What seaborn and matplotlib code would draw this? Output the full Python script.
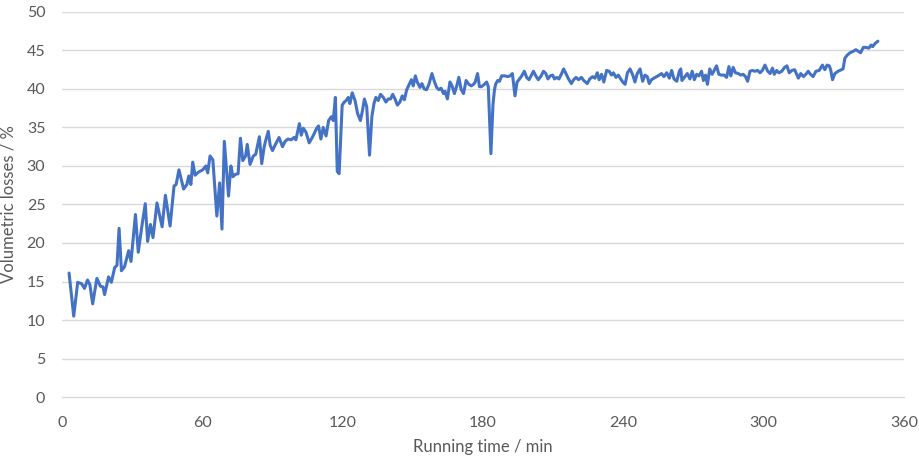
import numpy as np
import pandas as pd
import matplotlib
matplotlib.use("Agg")
import matplotlib.pyplot as plt
import seaborn as sns

# values (running time in min, volumetric losses in %)
time_min = [
    3.0, 5.0, 6.7, 8.4, 9.6, 10.9, 11.9, 13.1, 14.9, 16.4, 17.5, 18.2, 19.9, 21.1,
    22.5, 23.5, 24.4, 25.4, 26.7, 28.5, 29.5, 31.4, 32.6, 34.2, 35.6, 36.6, 37.8,
    38.9, 40.6, 42.8, 44.2, 46.2, 47.9, 48.8, 50.0, 52.0, 53.4, 54.2, 55.1, 55.9,
    56.9, 58.3, 60.2, 61.5, 62.3, 63.3, 64.5, 66.2, 67.4, 68.4, 69.4, 71.2, 72.2,
    73.1, 74.1, 75.3, 76.3, 77.3, 78.5, 79.2, 80.4, 81.8, 82.8, 84.4, 85.4, 86.4,
    87.0, 88.2, 89.0, 90.0, 91.1, 92.8, 94.3, 95.4, 96.6, 98.0, 99.2, 100.0, 101.5,
    102.3, 103.2, 104.3, 105.7, 107.2, 108.9, 109.7, 110.7, 111.7, 112.9, 114.0,
    115.2, 116.0, 116.9, 117.7, 118.5, 119.8, 120.7, 121.5, 122.4, 123.1, 124.1,
    125.3, 126.4, 127.6, 128.5, 129.3, 130.3, 131.5, 132.5, 133.4, 134.2, 135.2,
    136.2, 137.4, 138.5, 139.5, 140.5, 141.4, 142.4, 143.4, 144.5, 145.5, 146.4,
    147.4, 148.5, 149.4, 150.2, 151.1, 151.9, 153.1, 153.9, 154.9, 155.9, 156.9,
    158.2, 159.2, 160.2, 161.2, 162.1, 163.1, 163.8, 164.8, 165.9, 166.8, 167.8,
    168.8, 169.7, 170.7, 171.7, 172.8, 174.0, 175.0, 176.0, 176.7, 177.7, 178.5,
    179.4, 180.6, 181.6, 182.3, 183.4, 184.3, 184.9, 185.4, 186.3, 187.1, 188.0,
    189.4, 190.6, 191.6, 192.6, 193.7, 194.6, 195.4, 196.6, 197.7, 198.7, 199.7,
    200.6, 201.6, 202.6, 203.7, 204.9, 205.9, 206.9, 207.8, 208.8, 209.8, 210.6,
    211.6, 212.5, 213.5, 214.5, 215.5, 216.6, 217.8, 218.8, 219.8, 220.9, 222.1,
    223.1, 224.6, 225.7, 226.9, 227.9, 228.9, 229.7, 230.7, 231.7, 232.9, 234.0,
    235.0, 235.8, 236.9, 237.9, 238.9, 239.8, 240.8, 241.8, 242.9, 244.1, 245.0,
    246.0, 247.2, 248.3, 249.3, 250.3, 251.1, 252.1, 253.1, 254.3, 255.4, 256.4,
    257.4, 258.6, 259.7, 260.7, 261.7, 262.9, 264.0, 264.6, 265.1, 266.4, 267.4,
    268.5, 269.5, 270.4, 271.4, 272.4, 273.5, 274.3, 275.2, 276.0, 277.0, 278.0,
    278.9, 279.9, 280.9, 282.0, 283.2, 284.2, 285.2, 286.0, 287.0, 288.0, 289.2,
    290.3, 291.3, 292.3, 293.2, 294.2, 295.2, 296.3, 297.5, 298.5, 299.5, 300.6,
    301.8, 302.8, 303.8, 304.6, 305.6, 306.6, 307.8, 309.0, 310.0, 311.0, 312.1,
    313.3, 314.9, 315.9, 317.1, 318.1, 319.1, 320.1, 321.2, 322.4, 323.8, 325.2,
    326.2, 327.2, 328.1, 328.7, 329.5, 330.5, 331.9, 333.3, 334.0, 334.8, 335.8,
    337.0, 338.4, 339.5, 340.5, 341.5, 342.7, 343.8, 345.0, 346.0, 346.7, 347.7,
    348.9,
]
losses_pct = [
    16.1, 10.5, 14.9, 14.7, 14.1, 15.2, 14.6, 12.1, 15.4, 14.4, 14.3, 13.3, 15.6, 14.9,
    16.8, 17.1, 21.9, 16.4, 16.9, 19.0, 17.6, 23.7, 18.8, 22.3, 25.1, 20.2, 22.4,
    20.7, 25.2, 22.1, 26.2, 22.2, 27.4, 27.6, 29.5, 27.0, 27.6, 28.7, 27.6, 30.5,
    28.8, 29.2, 29.5, 30.0, 29.1, 31.3, 30.8, 23.5, 27.8, 21.8, 33.2, 26.1, 30.0,
    28.6, 28.9, 29.0, 33.6, 30.7, 31.3, 32.8, 30.2, 31.3, 31.5, 33.8, 30.3, 32.4,
    33.2, 34.5, 32.7, 32.0, 32.7, 33.7, 32.5, 33.2, 33.5, 33.4, 33.7, 33.4, 35.5,
    34.0, 34.9, 34.4, 33.0, 33.8, 34.9, 35.2, 33.5, 35.0, 33.9, 35.9,
    36.4, 35.9, 38.9, 29.3, 29.0, 37.9, 38.3, 38.5, 38.9, 38.1, 39.5,
    38.5, 36.8, 35.9, 37.2, 38.7, 37.7, 31.4, 36.4, 38.1, 38.9, 38.5,
    39.3, 38.9, 38.3, 38.7, 38.7, 39.3, 38.7, 37.9, 38.3, 39.1, 38.6,
    39.9, 40.6, 41.2, 40.4, 41.7, 40.9, 40.2, 40.7, 40.0, 39.9, 40.6,
    42.0, 41.0, 40.2, 39.9, 40.1, 39.4, 39.7, 38.7, 40.9, 40.4, 39.4,
    40.4, 41.5, 39.9, 39.4, 41.1, 40.6, 40.4, 40.6, 40.9, 42.0, 40.3,
    40.3, 40.6, 40.9, 40.3, 31.6, 38.0, 39.8, 40.6, 41.1, 41.0, 41.7,
    41.7, 41.6, 41.7, 42.0, 39.1, 40.9, 41.2, 41.7, 42.3, 41.5, 41.2,
    41.7, 42.3, 41.7, 41.2, 41.7, 42.3, 42.0, 41.3, 41.7, 41.8, 41.3,
    41.5, 41.3, 41.9, 42.6, 42.0, 41.3, 40.7, 41.2, 41.5, 41.2, 41.5,
    41.1, 40.7, 41.3, 41.6, 41.4, 42.1, 41.2, 41.9, 40.9, 42.4, 42.3,
    41.8, 42.1, 41.5, 41.8, 41.3, 40.9, 40.6, 42.1, 42.6, 41.8, 40.9,
    42.0, 42.6, 41.0, 41.8, 41.6, 40.7, 41.2, 41.4, 41.6, 41.8, 42.0,
    41.6, 42.1, 41.4, 42.4, 41.3, 41.0, 42.3, 42.6, 41.1, 41.6, 42.0,
    41.3, 42.3, 41.2, 41.9, 41.7, 42.3, 41.1, 41.8, 40.6, 42.6, 41.9,
    42.4, 43.0, 41.9, 41.8, 41.8, 41.5, 42.9, 41.7, 42.8, 42.1, 42.0,
    41.8, 41.9, 41.6, 41.0, 42.3, 42.4, 42.3, 42.4, 42.1, 42.4, 43.1,
    42.3, 42.0, 42.7, 41.9, 42.4, 42.1, 42.3, 42.8, 43.0, 42.1, 42.4,
    42.5, 41.4, 42.0, 41.6, 41.9, 42.3, 41.9, 41.6, 42.3, 42.4, 43.1,
    42.5, 43.1, 43.0, 42.5, 41.2, 42.0, 42.3, 42.5, 42.6, 44.0, 44.4,
    44.7, 44.9, 45.1, 44.9, 44.7, 45.4, 45.4, 45.3, 45.7, 45.5, 45.9,
    46.2,
]
x_ticks = [0, 60, 120, 180, 240, 300, 360]
y_ticks = [0, 5, 10, 15, 20, 25, 30, 35, 40, 45, 50]

df = pd.DataFrame({"time": time_min, "loss": losses_pct})

sns.set_style("white")
plt.rcParams["font.family"] = ["Lato", "DejaVu Sans"]

txt = "#595959"
grid = "#d9d9d9"

fig = plt.figure(figsize=(9.19, 4.59), dpi=100)
ax = fig.add_axes([0.0675, 0.135, 0.916, 0.839])

for v in y_ticks[1:]:
    ax.axhline(v, color=grid, lw=1, zorder=0)

sns.lineplot(data=df, x="time", y="loss", color="#4472C4", linewidth=2.2, ax=ax, zorder=3)

ax.set_xlim(0, 360)
ax.set_ylim(0, 50)
ax.set_xticks(x_ticks)
ax.set_yticks(y_ticks)
for s in ["top", "right", "left"]:
    ax.spines[s].set_visible(False)
ax.spines["bottom"].set_color(grid)
ax.spines["bottom"].set_linewidth(1)
ax.tick_params(axis="x", direction="in", length=6, color=grid, labelsize=11.5, labelcolor=txt, pad=14)
ax.tick_params(axis="y", length=0, labelsize=11.5, labelcolor=txt, pad=12)
ax.set_xlabel("Running time / min", fontsize=12, color=txt, labelpad=6)
ax.set_ylabel("Volumetric losses / %", fontsize=12, color=txt, labelpad=7)

fig.savefig("out.png", dpi=100)
